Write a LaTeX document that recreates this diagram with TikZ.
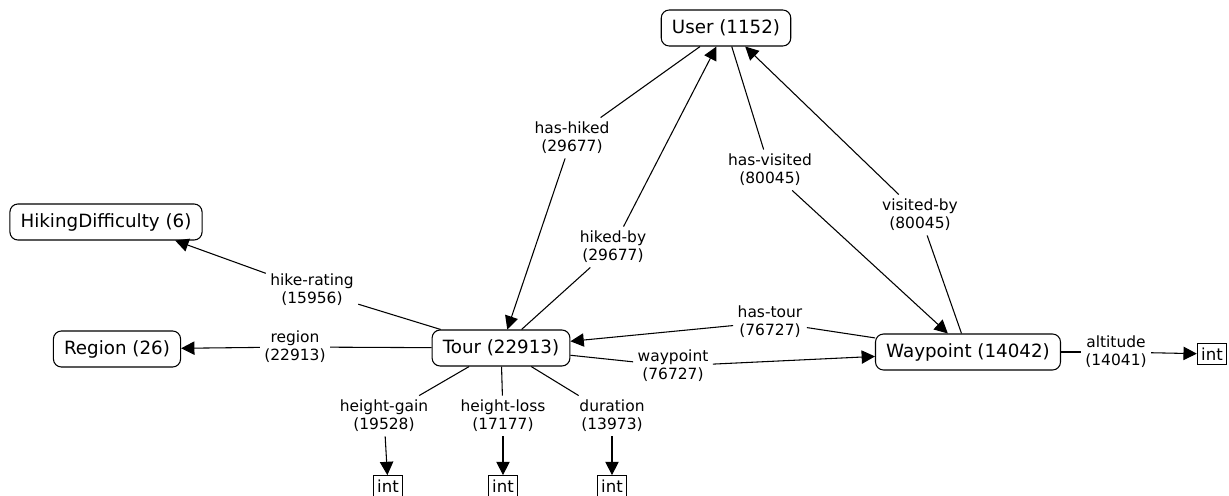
\documentclass[tikz,border=0pt]{standalone}
\usepackage{fontspec}
\setmainfont{DejaVu Sans}
\usetikzlibrary{positioning}
\usetikzlibrary{arrows.meta}

\begin{document}
\begin{tikzpicture}[x=0.75pt, y=-0.75pt, line width=0.8pt, >={Triangle[length=10pt, width=10pt]}]
		\tikzstyle{classnode} = [draw, rounded corners=6pt, inner xsep=8pt, minimum height=27pt, font=\fontsize{13.7}{16}\selectfont]
		\tikzstyle{literal} = [draw, inner xsep=2pt, inner ysep=1pt, minimum width=22pt, minimum height=15.5pt, font=\fontsize{12.4}{14}\selectfont]
		\tikzstyle{edgelabel} = [align=center, inner sep=3pt, font=\fontsize{11.6}{13.5}\selectfont]
		\useasboundingbox (0, 0) rectangle (1229, 496);
	% Clases
		\node[classnode] (user) at (726, 28) {User (1152)};
		\node[classnode] (difficulty) at (106, 222) {HikingDifficulty (6)};
		\node[classnode] (region) at (117, 349) {Region (26)};
		\node[classnode] (tour) at (501, 348) {Tour (22913)};
		\node[classnode] (waypoint) at (968, 352) {Waypoint (14042)};

		\node[literal] (intalt) at (1212, 354) {int};
		\node[literal] (intgain) at (388, 486) {int};
		\node[literal] (intloss) at (503, 486) {int};
		\node[literal] (intdur) at (612, 486) {int};

	% Etiquetas
		\node[edgelabel] (hashiked) at (572, 138) {has-hiked\\(29677)};
		\node[edgelabel] (hikedby) at (613, 247) {hiked-by\\(29677)};
		\node[edgelabel] (hasvisited) at (770, 170) {has-visited\\(80045)};
		\node[edgelabel] (visitedby) at (920, 215) {visited-by\\(80045)};
		\node[edgelabel] (hikerating) at (312, 290) {hike-rating\\(15956)};
		\node[edgelabel] (regionlbl) at (295, 347) {region\\(22913)};
		\node[edgelabel] (hastour) at (770, 322) {has-tour\\(76727)};
		\node[edgelabel] (waypointlbl) at (673, 366) {waypoint\\(76727)};
		\node[edgelabel] (altitude) at (1116, 352) {altitude\\(14041)};
		\node[edgelabel] (gain) at (384, 416) {height-gain\\(19528)};
		\node[edgelabel] (loss) at (503, 416) {height-loss\\(17177)};
		\node[edgelabel] (dur) at (612, 416) {duration\\(13973)};

	% Enlaces
		\draw (user) -- (hashiked);
		\draw[->] (hashiked) -- (tour);
		\draw (tour) -- (hikedby);
		\draw[->] (hikedby) -- (user);
		\draw (user) -- (hasvisited);
		\draw[->] (hasvisited) -- (waypoint);
		\draw (waypoint) -- (visitedby);
		\draw[->] (visitedby) -- (user);
		\draw (tour) -- (hikerating);
		\draw[->] (hikerating) -- (difficulty.-15);
		\draw (tour) -- (regionlbl);
		\draw[->] (regionlbl) -- (region);
		\draw (waypoint) -- (hastour);
		\draw[->] (hastour) -- (tour);
		\draw (tour) -- (waypointlbl);
		\draw[->] (waypointlbl) -- (waypoint);
		\draw (waypoint) -- (altitude);
		\draw[->] (altitude) -- (intalt);
		\draw (tour) -- (gain);
		\draw[->] (gain) -- (intgain);
		\draw (tour) -- (loss);
		\draw[->] (loss) -- (intloss);
		\draw (tour) -- (dur);
		\draw[->] (dur) -- (intdur);
	\end{tikzpicture}
\end{document}
